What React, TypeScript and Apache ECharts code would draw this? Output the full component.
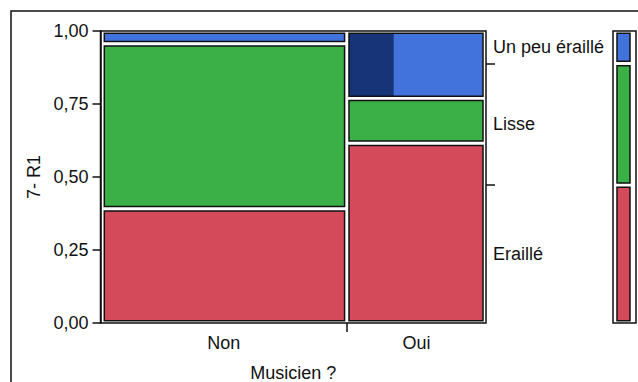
import React, { useEffect, useRef } from 'react';
import * as echarts from 'echarts';

// ---- data ----
const categories = ['Non', 'Oui'];
const levels = ['Eraillé', 'Lisse', 'Un peu éraillé'];
const nonCounts = [9, 13, 1];
const ouiCounts = [8, 2, 3];
const nonHighlighted = [0, 0, 0];
const ouiHighlighted = [0, 0, 1];
const yTicks = [0, 0.25, 0.5, 0.75, 1];
const xTitle = 'Musicien ?';
const yTitle = '7- R1';

const levelColors = ['#D54A5A', '#3AB047', '#4272DC'];
const highlightColor = '#163477';
const ink = '#111111';
const FONT = '"Liberation Sans", Arial, sans-serif';
const FS = 18;

const sum = (a: number[]) => a.reduce((s, v) => s + v, 0);
const countsByCat = [nonCounts, ouiCounts];
const highByCat = [nonHighlighted, ouiHighlighted];
const colTotals = countsByCat.map(sum);
const grand = sum(colTotals);

// mosaic cells: [x0, x1, y0, y1, levelIndex, highlightFraction]
const cells: number[][] = [];
const colBounds: number[] = [];
const colMids: number[] = [];
{
  let xc = 0;
  countsByCat.forEach((counts, ci) => {
    const x0 = xc / grand;
    xc += colTotals[ci];
    const x1 = xc / grand;
    colMids.push((x0 + x1) / 2);
    if (ci < countsByCat.length - 1) colBounds.push(x1);
    let yc = 0;
    counts.forEach((n, li) => {
      const y0 = yc / colTotals[ci];
      yc += n;
      const y1 = yc / colTotals[ci];
      cells.push([x0, x1, y0, y1, li, n ? highByCat[ci][li] / n : 0]);
    });
  });
}

// marginal distribution
const levelTotals = levels.map((_, li) => sum(countsByCat.map((c) => c[li])));
const marginCells: number[][] = [];
const marginBounds: number[] = [];
const marginMids: number[] = [];
{
  let yc = 0;
  levelTotals.forEach((n, li) => {
    const y0 = yc / grand;
    yc += n;
    const y1 = yc / grand;
    marginMids.push((y0 + y1) / 2);
    if (li < levelTotals.length - 1) marginBounds.push(y1);
    marginCells.push([0, 1, y0, y1, li, 0]);
  });
}

function makeRenderItem(inL: number, inR: number, inInner: number, inV: number) {
  return (params: any, api: any) => {
    const x0 = api.value(0), x1 = api.value(1), y0 = api.value(2), y1 = api.value(3);
    const li = api.value(4), hf = api.value(5);
    const p0 = api.coord([x0, y1]);
    const p1 = api.coord([x1, y0]);
    const il = x0 <= 0 ? inL : inInner;
    const ir = x1 >= 1 ? inR : inInner;
    const x = p0[0] + il;
    const y = p0[1] + inV;
    const w = p1[0] - p0[0] - il - ir;
    const h = p1[1] - p0[1] - 2 * inV;
    const children: any[] = [
      { type: 'rect', shape: { x, y, width: w, height: h }, style: { fill: levelColors[li] } },
    ];
    if (hf > 0) {
      children.push({ type: 'rect', shape: { x, y, width: w * hf, height: h }, style: { fill: highlightColor } });
    }
    children.push({
      type: 'rect',
      shape: { x, y, width: w, height: h },
      style: { fill: 'none', stroke: ink, lineWidth: 1.5 },
    });
    return { type: 'group', children };
  };
}

const textStyle = { color: ink, fontFamily: FONT, fontSize: FS };

export default function App() {
  const ref = useRef<HTMLDivElement>(null);
  useEffect(() => {
    if (!ref.current) return;
    const chart = echarts.init(ref.current, null, { renderer: 'svg' });
    chart.setOption({
      animation: false,
      backgroundColor: '#ffffff',
      textStyle: { fontFamily: FONT },
      graphic: [
        {
          type: 'rect',
          shape: { x: 11, y: 11, width: 800, height: 600 },
          style: { fill: 'none', stroke: ink, lineWidth: 1.5 },
          silent: true,
        },
      ],
      grid: [
        { left: 100.5, right: 152, top: 31, bottom: 59, show: true, borderColor: ink, borderWidth: 1.5, backgroundColor: 'transparent', containLabel: false, outerBoundsMode: 'none' },
        { left: 613, width: 23, top: 31, bottom: 59, show: true, borderColor: ink, borderWidth: 1.5, backgroundColor: 'transparent', containLabel: false, outerBoundsMode: 'none' },
      ],
      xAxis: [
        {
          type: 'value', gridIndex: 0, min: 0, max: 1,
          splitLine: { show: false },
          axisLine: { show: false },
          axisTick: { show: true, customValues: colBounds, length: 9, lineStyle: { color: ink, width: 1.5 } },
          axisLabel: {
            show: true, customValues: colMids, margin: 11, ...textStyle,
            formatter: (v: number) => categories[colMids.findIndex((m) => Math.abs(m - v) < 1e-6)] ?? '',
          },
          name: xTitle, nameLocation: 'middle', nameGap: 42,
          nameTextStyle: { ...textStyle, fontSize: 18, lineHeight: 16 },
        },
        { type: 'value', gridIndex: 1, min: 0, max: 1, show: false },
      ],
      yAxis: [
        {
          type: 'value', gridIndex: 0, min: 0, max: 1, interval: 0.25, position: 'left',
          splitLine: { show: false },
          axisLine: { show: true, lineStyle: { color: ink, width: 1.5 } },
          axisTick: { show: true, length: 8, lineStyle: { color: ink, width: 1.5 }, customValues: yTicks },
          axisLabel: {
            margin: 12, ...textStyle, customValues: yTicks,
            formatter: (v: number) => v.toFixed(2).replace('.', ','),
          },
          name: yTitle, nameLocation: 'middle', nameGap: 56, nameRotate: 90,
          nameTextStyle: textStyle,
        },
        {
          type: 'value', gridIndex: 0, min: 0, max: 1, position: 'right',
          splitLine: { show: false },
          axisLine: { show: false },
          axisTick: { show: true, customValues: marginBounds, length: 9, lineStyle: { color: ink, width: 1.5 } },
          axisLabel: {
            show: true, customValues: marginMids, margin: 7, ...textStyle,
            formatter: (v: number) => levels[marginMids.findIndex((m) => Math.abs(m - v) < 1e-6)] ?? '',
          },
        },
        { type: 'value', gridIndex: 1, min: 0, max: 1, show: false },
      ],
      series: [
        {
          type: 'custom', xAxisIndex: 0, yAxisIndex: 0,
          renderItem: makeRenderItem(3.8, 3, 2.2, 2.2),
          encode: { x: [0, 1], y: [2, 3] },
          data: cells,
          silent: true,
        },
        {
          type: 'custom', xAxisIndex: 1, yAxisIndex: 2,
          renderItem: makeRenderItem(4, 6, 2.2, 2.2),
          encode: { x: [0, 1], y: [2, 3] },
          data: marginCells,
          silent: true,
        },
      ],
    });
    return () => chart.dispose();
  }, []);
  return <div ref={ref} style={{ position: 'fixed', left: 0, top: 0, width: 638, height: 382 }} />;
}
